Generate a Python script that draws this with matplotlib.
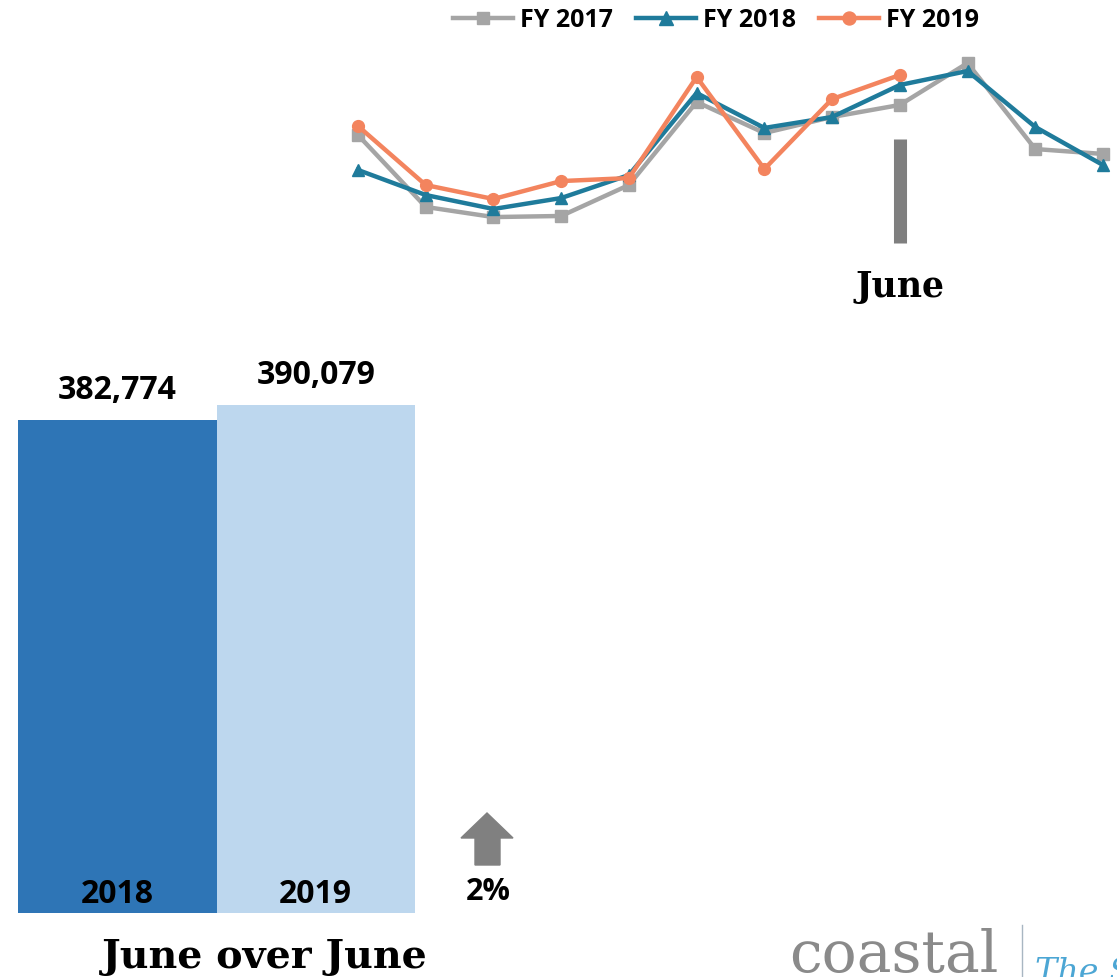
import matplotlib

matplotlib.use('Agg')
import matplotlib.pyplot as plt
import matplotlib.transforms as mtransforms
from matplotlib.patches import Polygon

W, H = 1117, 977

# monthly totals by fiscal year (Oct..Sep), FY 2019 through June
months = ['Oct', 'Nov', 'Dec', 'Jan', 'Feb', 'Mar', 'Apr', 'May', 'Jun', 'Jul', 'Aug', 'Sep']
fy2017 = [346200, 293700, 286300, 287100, 309700, 370400, 347700, 359400, 368200, 398800, 336000, 332400]
fy2018 = [320700, 302400, 292200, 300200, 317000, 376900, 351400, 359400, 382774, 393000, 352100, 324300]
fy2019 = [352800, 309700, 299500, 312600, 314800, 388600, 321400, 372500, 390079]

# June over June comparison
bar_years = ['2018', '2019']
bar_values = [382774, 390079]

GRAY = '#a5a5a5'
TEAL = '#1f7b9b'
ORANGE = '#f3845e'
DARK_BLUE = '#2e75b6'
LIGHT_BLUE = '#bdd7ee'

SANS = ['Open Sans', 'DejaVu Sans']
SLAB = ['DejaVu Serif']


def fx(x):
    return x / W


def fy(y):
    return 1 - y / H


fig = plt.figure(figsize=(W / 100, H / 100), dpi=100)

# --- monthly trend lines ---
ax = fig.add_axes([fx(358), fy(217), fx(1103 - 358), (217 - 63) / H])
x = list(range(len(months)))
ax.plot(x, fy2017, color=GRAY, lw=3.2, marker='s', ms=8.5, label='FY 2017', clip_on=False, zorder=2)
ax.plot(x, fy2018, color=TEAL, lw=3.2, marker='^', ms=9, label='FY 2018', clip_on=False, zorder=3)
ax.plot(x[:len(fy2019)], fy2019, color=ORANGE, lw=3.2, marker='o', ms=8.5, label='FY 2019',
        clip_on=False, zorder=4)
ax.set_xlim(0, len(months) - 1)
ax.set_ylim(286350, 398850)
ax.axis('off')

ax.legend(loc='upper center', bbox_to_anchor=(fx(716), fy(8)), bbox_transform=fig.transFigure,
          ncol=3, frameon=False, handlelength=2.4, handletextpad=0.3, columnspacing=0.9,
          borderpad=0, borderaxespad=0, markerscale=1.1,
          prop={'family': SANS, 'weight': 'bold', 'size': 18})

# current month marker
jun = months.index('Jun')
blend = mtransforms.blended_transform_factory(ax.transData, fig.transFigure)
ax.plot([jun, jun], [fy(139), fy(243)], transform=blend, color='#7f7f7f', lw=9.4,
        solid_capstyle='butt', clip_on=False)
ax.text(jun, fy(297), 'June', transform=blend, ha='center', va='baseline',
        family=SLAB, weight='bold', fontsize=25)

# --- June over June bars ---
base = 140000
bx = fig.add_axes([fx(18), fy(913), fx(415 - 18), (913 - 363) / H])
bx.bar([0, 1], bar_values, width=1.0, color=[DARK_BLUE, LIGHT_BLUE])
bx.set_xlim(-0.5, 1.5)
bx.set_ylim(base, 410755)
bx.axis('off')
for i, (yr, v) in enumerate(zip(bar_years, bar_values)):
    bx.annotate(f'{v:,}', (i, v), xytext=(0, 15), textcoords='offset points', ha='center',
                va='baseline', family=SANS, weight='bold', fontsize=23, annotation_clip=False)
    bx.annotate(yr, (i, base), xytext=(0, 7.2), textcoords='offset points', ha='center',
                va='baseline', family=SANS, weight='bold', fontsize=23, annotation_clip=False)

# change arrow
arrow_px = [(487, 813), (513, 838), (500, 838), (500, 865), (475, 865), (475, 838), (461, 838)]
fig.patches.append(Polygon([(fx(a), fy(b)) for a, b in arrow_px], closed=True,
                           transform=fig.transFigure, color='#808080'))
pct = (bar_values[1] - bar_values[0]) / bar_values[0] * 100
fig.text(fx(488), fy(900), f'{pct:.0f}%', ha='center', va='baseline',
         family=SANS, weight='bold', fontsize=22)

fig.text(fx(265), fy(968), 'June over June', ha='center', va='baseline',
         family=SLAB, weight='bold', fontsize=28.5)

# logo
fig.text(fx(789), fy(972), 'coastal', ha='left', va='baseline', family=['DejaVu Serif'],
         color='#8a8a8a', fontsize=42)
fig.add_artist(plt.Line2D([fx(1022), fx(1022)], [fy(925), fy(977)], transform=fig.transFigure,
                          color='#a8b6c2', lw=1))
fig.text(fx(1035), fy(982), 'The S', ha='left', va='baseline', family=['DejaVu Serif'],
         style='italic', color='#4ca6d4', fontsize=24)

fig.savefig('out.png', dpi=100)
